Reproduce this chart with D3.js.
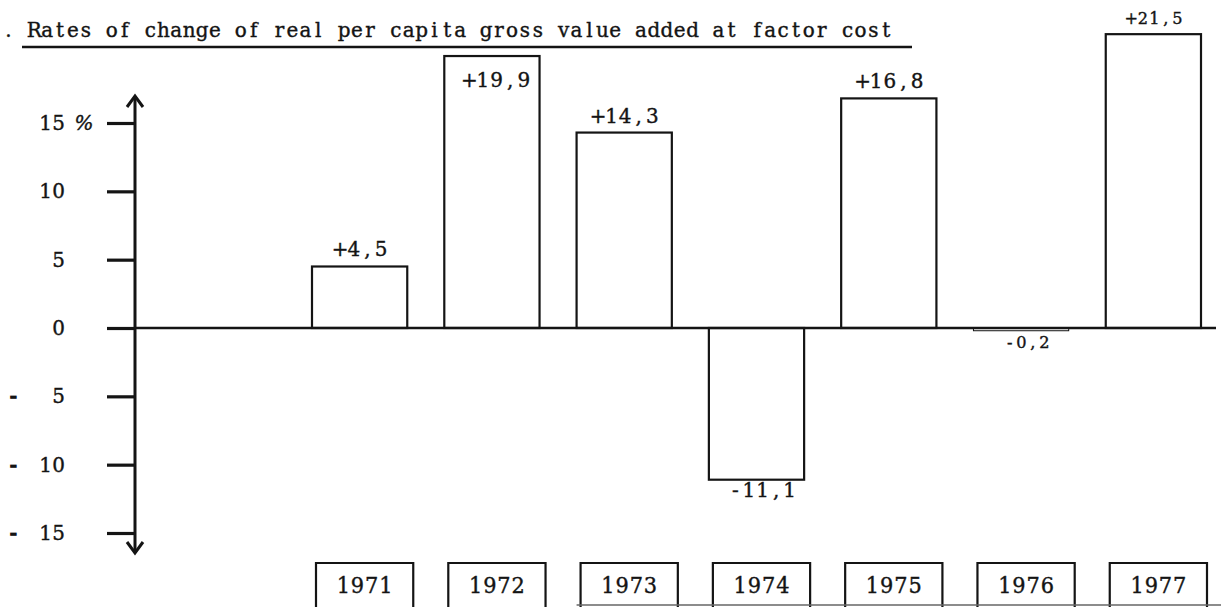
<!DOCTYPE html>
<html><head><meta charset="utf-8">
<script src="https://cdn.jsdelivr.net/npm/d3@7"></script>
<style>body{margin:0;background:#fff} svg{display:block}</style>
</head><body><svg id="c" width="1221" height="607"></svg>
<script>
const years = ["1971","1972","1973","1974","1975","1976","1977"];
const values = [4.5, 19.9, 14.3, -11.1, 16.8, -0.2, 21.5];
const yTicks = [-15,-10,-5,0,5,10,15];
const labelPlacement = ["above","inside","above","below","above","below","above"];
const titleText = ". Rates of change of real per capita gross value added at factor cost";

const svg = d3.select("#c");
const ink = "#141414";
const font = "'DejaVu Serif', 'Liberation Serif', serif";
const SX = 0.95;
const x = d3.scaleBand().domain(years).range([312, 1201]).paddingInner(0.28).paddingOuter(0);
const y = d3.scaleLinear().domain([-15, 15]).range([533, 123]);
const axisX = 135;
const fmt = v => (v > 0 ? "+" : v < 0 ? "-" : "") + Math.abs(v).toFixed(1).replace(".", ",");
const bw = x.bandwidth();

// typewriter-style text: one glyph per fixed-pitch cell
function typed(parent, str, px, py, pitch, anchor, size) {
  const n = str.length;
  const x0 = anchor === "start" ? px : anchor === "end" ? px - n * pitch : px - n * pitch / 2;
  const xs = d3.range(n).map(i => ((x0 + pitch * (i + 0.5)) / SX).toFixed(2)).join(" ");
  return parent.append("text")
    .attr("transform", `scale(${SX},1)`)
    .attr("x", xs).attr("y", py)
    .attr("text-anchor", "middle")
    .attr("font-family", font).attr("font-size", size)
    .attr("fill", ink).attr("stroke", ink).attr("stroke-width", 0.4)
    .text(str);
}

svg.append("rect").attr("width",1221).attr("height",607).attr("fill","#fff");

// title
typed(svg, titleText, 2, 37, 12.91, "start", 21);
svg.append("line").attr("x1",22).attr("x2",912).attr("y1",47).attr("y2",47)
  .attr("stroke",ink).attr("stroke-width",2.5);

// bars
const data = years.map((yr,i)=>({year:yr, value:values[i], place:labelPlacement[i]}));
svg.append("g").selectAll("rect").data(data).join("rect")
  .attr("x", d => x(d.year))
  .attr("width", bw)
  .attr("y", d => y(Math.max(0, d.value)))
  .attr("height", d => Math.abs(y(d.value) - y(0)))
  .attr("fill","none").attr("stroke",ink)
  .attr("stroke-width", d => Math.abs(d.value) < 1 ? 1 : 2.2);

// x axis (zero line)
svg.append("line").attr("x1",axisX).attr("x2",1216).attr("y1",y(0)).attr("y2",y(0))
  .attr("stroke",ink).attr("stroke-width",2.5);

// y axis ticks
const yAxis = d3.axisLeft(y).tickValues(yTicks).tickSize(28).tickSizeOuter(0).tickFormat("");
const gy = svg.append("g").attr("transform",`translate(${axisX},0)`).call(yAxis);
gy.select(".domain").remove();
gy.selectAll(".tick line").attr("stroke",ink).attr("stroke-width",3.2);
gy.selectAll(".tick text").remove();

// y tick labels
const gl = svg.append("g");
yTicks.forEach(t => {
  const ty = y(t) + 7;
  typed(gl, String(Math.abs(t)), 65, ty, 13, "end", 21);
  if (t < 0) typed(gl, "-", 7, ty, 13, "start", 21).attr("stroke-width", 1.6);
  if (t === d3.max(yTicks)) typed(gl, "%", 76, ty, 16, "start", 21).attr("font-style","italic");
});

svg.append("line").attr("x1",axisX).attr("x2",axisX).attr("y1",y(15)-27).attr("y2",y(-15)+20)
  .attr("stroke",ink).attr("stroke-width",3);
svg.append("path").attr("d",`M${axisX-8},${y(15)-16}L${axisX},${y(15)-27}L${axisX+8},${y(15)-16}`)
  .attr("fill","none").attr("stroke",ink).attr("stroke-width",3);
svg.append("path").attr("d",`M${axisX-8},${y(-15)+9}L${axisX},${y(-15)+20}L${axisX+8},${y(-15)+9}`)
  .attr("fill","none").attr("stroke",ink).attr("stroke-width",3);

// value labels
const small = d => Math.abs(d.value) < 1 || d.value === d3.max(values);
const gv = svg.append("g");
data.forEach(d => {
  const s = fmt(d.value);
  const size = small(d) ? 17 : 21;
  const pitch = small(d) ? 11.5 : 13.6;
  if (d.place === "inside") {
    typed(gv, s, x(d.year) + bw - 9, y(d.value) + 31, pitch, "end", size);
  } else if (d.place === "above") {
    typed(gv, s, x(d.year) + bw / 2 + 1, y(d.value) - 10, pitch, "middle", size);
  } else {
    typed(gv, s, x(d.year) + bw / 2 + 6, Math.max(y(d.value), y(0)) + 17, pitch, "middle", size);
  }
});

// year boxes
const gb = svg.append("g");
data.forEach(d => {
  const x0 = x(d.year) + 4, x1 = x(d.year) + bw + 6;
  gb.append("path").attr("d",`M${x0},612V563H${x1}V612`)
    .attr("fill","none").attr("stroke",ink).attr("stroke-width",2.2);
  typed(gb, d.year, (x0 + x1) / 2, 593, 14.2, "middle", 22);
});
// faint rule along the bottom under the later boxes
svg.append("line").attr("x1", x("1973")).attr("x2", 1221).attr("y1", 605).attr("y2", 605)
  .attr("stroke", "#666").attr("stroke-width", 1.5);
</script></body></html>
